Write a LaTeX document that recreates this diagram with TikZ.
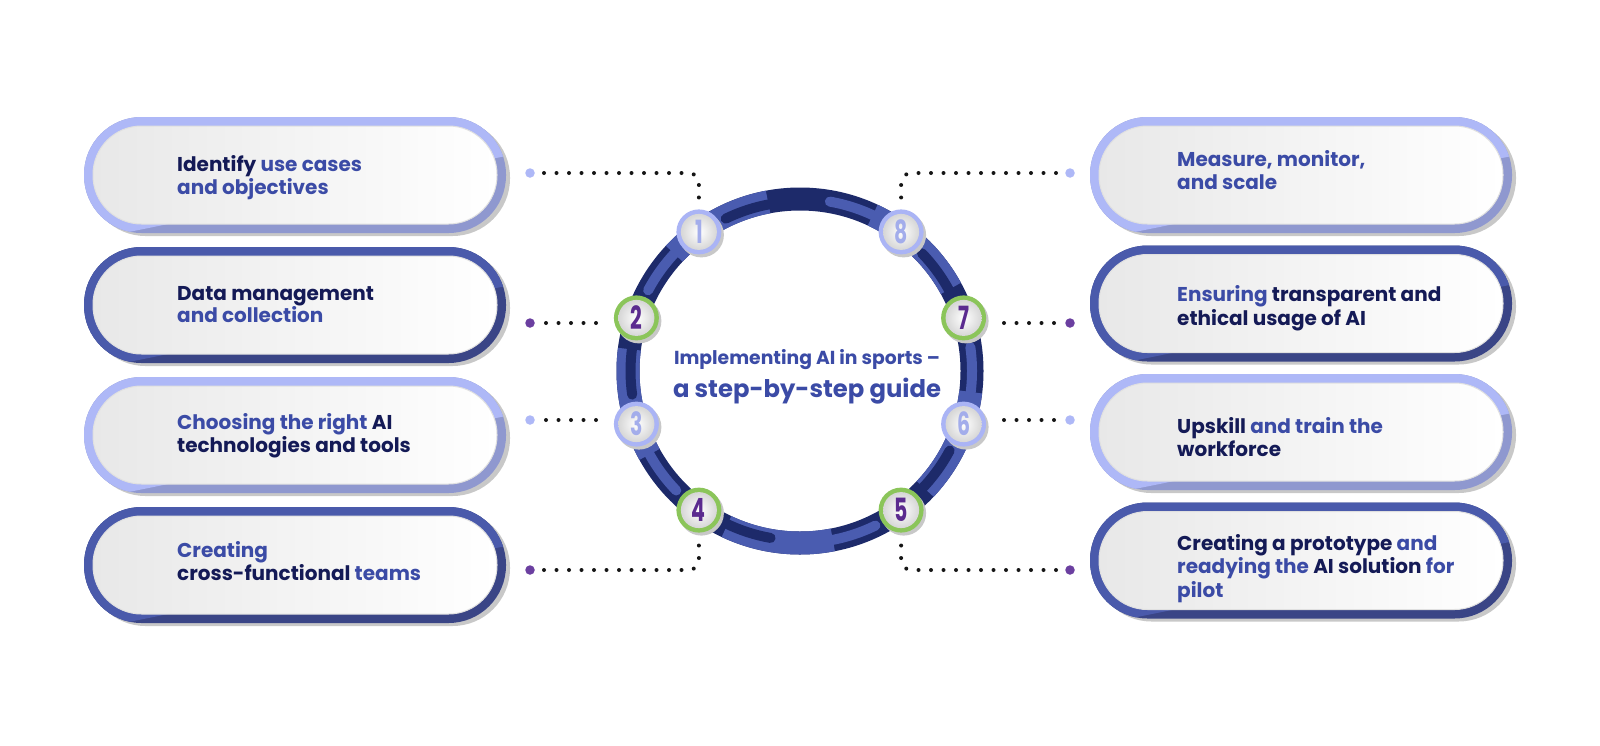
\documentclass[tikz,border=0pt]{standalone}
\usepackage{fontspec}
\setmainfont{Poppins}
\usepackage{graphicx}
\definecolor{navy}{HTML}{141A56}
\definecolor{tblue}{HTML}{3B4BA6}
\definecolor{plight}{HTML}{AEB8F7}
\definecolor{plightsh}{HTML}{8F98CF}
\definecolor{pdark}{HTML}{4A5AAB}
\definecolor{pdarksh}{HTML}{3A4586}
\definecolor{ringmed}{HTML}{4A5CB0}
\definecolor{ringdark}{HTML}{1D2A6A}
\definecolor{cgreen}{HTML}{8BC55A}
\definecolor{clight}{HTML}{AAB4F5}
\definecolor{dlight}{HTML}{A3ADEB}
\definecolor{dpurple}{HTML}{5B2B8F}
\definecolor{epurple}{HTML}{6B3FA0}
\definecolor{shgray}{HTML}{C8C8C8}
\definecolor{dotblack}{HTML}{151515}

\newcommand\mypill[4]{%
 \begin{scope}[shift={(#1,#2)}]
  \fill[shgray, rounded corners=57.5pt] (4,3) rectangle (426,119);
  \begin{scope}
   \clip[rounded corners=57.5pt] (0,0) rectangle (422,116);
   \fill[#4] (-10,-10) rectangle (432,126);
   \fill[#3] (-10,-10) -- (432,-10) -- (432,37) -- (-10,126) -- cycle;
  \end{scope}
  \shade[left color=black!9, right color=white, rounded corners=48.5pt] (9,9) rectangle (413,107);
  \draw[black!12, line width=1pt, rounded corners=48.5pt] (9,9) rectangle (413,107);
 \end{scope}}

\newcommand\numcirc[6]{%
 \begin{scope}[shift={(#2,#3)}]
  \fill[shgray] (2.5,3) circle (22.5);
  \fill[#4] (0,0) circle (22.5);
  \shade[inner color=white, outer color=black!16] (0,0) circle (18);
  \node[numtxt, text=#5] (#1) at (0,0) {\scalebox{0.64}[1]{#6}};
 \end{scope}}

\begin{document}
\begin{tikzpicture}[x=1pt,y=-1pt,
  txt/.style={anchor=base west, inner sep=0pt, font=\bfseries\fontsize{20}{24}\selectfont, text=navy},
  numtxt/.style={circle, minimum size=45pt, inner sep=0pt, font=\bfseries\fontsize{32}{32}\selectfont},
  dotline/.style={draw=dotblack, line width=4pt, line cap=round, dash pattern=on 0pt off 12.5pt},
  enddot/.style={circle, inner sep=0pt, minimum size=9.5pt},
  titletxt/.style={anchor=base, inner sep=0pt, font=\bfseries, text=tblue}]
\useasboundingbox[fill=white] (0,0) rectangle (1600,745);

% ---- pills
\mypill{84}{117}{plight}{plightsh}
\mypill{84}{247}{pdark}{pdarksh}
\mypill{84}{377}{plight}{plightsh}
\mypill{84}{507}{pdark}{pdarksh}
\mypill{1090}{117}{plight}{plightsh}
\mypill{1090}{245.5}{pdark}{pdarksh}
\mypill{1090}{374}{plight}{plightsh}
\mypill{1090}{502.5}{pdark}{pdarksh}

% ---- pill texts
\node[txt] (l1a) at (177,171) {Identify \textcolor{tblue}{use cases}};
\node[txt, text=tblue] (l1b) at (177,194) {and objectives};
\node[txt] (l2a) at (177,300) {Data management};
\node[txt, text=tblue] (l2b) at (177,322.5) {and collection};
\node[txt] (l3a) at (177,429) {\textcolor{tblue}{Choosing the right} AI};
\node[txt] (l3b) at (177,452) {technologies and tools};
\node[txt, text=tblue] (l4a) at (177,557) {Creating};
\node[txt] (l4b) at (177,580) {cross-functional \textcolor{tblue}{teams}};

\node[txt, text=tblue] (r1a) at (1177,166) {Measure, monitor,};
\node[txt, text=tblue] (r1b) at (1177,189.5) {and scale};
\node[txt] (r2a) at (1177,301.5) {\textcolor{tblue}{Ensuring} transparent and};
\node[txt] (r2b) at (1177,325) {ethical usage of AI};
\node[txt] (r3a) at (1177,433) {Upskill \textcolor{tblue}{and train the}};
\node[txt] (r3b) at (1177,456.5) {workforce};
\node[txt] (r4a) at (1177,550) {Creating a prototype \textcolor{tblue}{and}};
\node[txt, text=tblue] (r4b) at (1177,573.5) {readying the \textcolor{navy}{AI solution} for};
\node[txt, text=tblue] (r4c) at (1177,597) {pilot};

% ---- ring
\coordinate (c) at (800,371);
\draw[ringdark, line width=23pt] (c) circle (172);
\foreach \s in {223,295,367,439,511}
  \draw[ringmed, line width=23pt] (c) ++(\s:172) arc[start angle=\s, end angle=\s+36.3, radius=172];
\foreach \s in {223,295,367,439,511}
  \draw[ringdark, line width=10pt, line cap=round] (c) ++(\s+21:169.5) arc[start angle=\s+21, end angle=\s+37, radius=169.5];
\foreach \s in {259,331,403,475,547}
  \draw[ringmed, line width=10pt, line cap=round] (c) ++(\s+21:172) arc[start angle=\s+21, end angle=\s+37, radius=172];

% ---- number circles
\numcirc{n1}{698.9}{231.9}{clight}{dlight}{1}
\numcirc{n8}{901.1}{231.9}{clight}{dlight}{8}
\numcirc{n2}{636.4}{317.9}{cgreen}{dpurple}{2}
\numcirc{n7}{963.6}{317.9}{cgreen}{dpurple}{7}
\numcirc{n3}{636.4}{424.1}{clight}{dlight}{3}
\numcirc{n6}{963.6}{424.1}{clight}{dlight}{6}
\numcirc{n4}{698.9}{510.1}{cgreen}{dpurple}{4}
\numcirc{n5}{901.1}{510.1}{cgreen}{dpurple}{5}

% ---- title
\node[titletxt] (t1) at (807,364) {\resizebox{266pt}{!}{Implementing AI in sports –}};
\node[titletxt] (t2) at (807,397) {\resizebox{268pt}{!}{a step-by-step guide}};

% ---- end dots
\node[enddot, fill=plight] (e1) at (530,173) {};
\node[enddot, fill=epurple] (e2) at (530,323) {};
\node[enddot, fill=plight] (e3) at (530,420) {};
\node[enddot, fill=epurple] (e4) at (530,570) {};
\node[enddot, fill=plight] (e8) at (1070,173) {};
\node[enddot, fill=epurple] (e7) at (1070,323) {};
\node[enddot, fill=plight] (e6) at (1070,420) {};
\node[enddot, fill=epurple] (e5) at (1070,570) {};

% ---- dotted connectors
\draw[dotline, rounded corners=10pt] ([xshift=14pt]e1.center) -| ([yshift=7pt]n1.north);
\draw[dotline] ([xshift=16pt]e2.center) -- ([xshift=-14pt]n2.west |- e2.center);
\draw[dotline] ([xshift=16pt]e3.center) -- ([xshift=-14pt]n3.west |- e3.center);
\draw[dotline, rounded corners=10pt] ([xshift=14pt]e4.center) -| ([yshift=-7pt]n4.south);
\draw[dotline, rounded corners=10pt] ([xshift=-14pt]e8.center) -| ([yshift=7pt]n8.north);
\draw[dotline] ([xshift=-16pt]e7.center) -- ([xshift=14pt]n7.east |- e7.center);
\draw[dotline] ([xshift=-16pt]e6.center) -- ([xshift=14pt]n6.east |- e6.center);
\draw[dotline, rounded corners=10pt] ([xshift=-14pt]e5.center) -| ([yshift=-7pt]n5.south);
\end{tikzpicture}
\end{document}
